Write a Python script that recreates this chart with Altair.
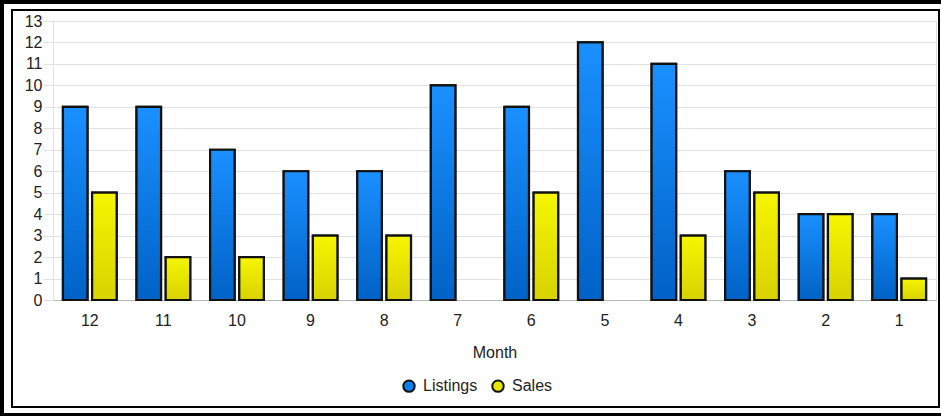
import altair as alt
import pandas as pd

months = [12, 11, 10, 9, 8, 7, 6, 5, 4, 3, 2, 1]
listings = [9, 9, 7, 6, 6, 10, 9, 12, 11, 6, 4, 4]
sales = [5, 2, 2, 3, 3, 0, 5, 0, 3, 5, 4, 1]
series = ["Listings", "Sales"]
flat_colors = ["#0a80ee", "#e6e600"]
y_ticks = list(range(0, 14))

rows = []
for m, l, s in zip(months, listings, sales):
    rows.append({"Month": str(m), "Series": "Listings", "Value": l})
    rows.append({"Month": str(m), "Series": "Sales", "Value": s})
df = pd.DataFrame(rows)

FONT = "Liberation Sans"
FS = 16
month_order = [str(m) for m in months]

x_enc = alt.X("Month:N", sort=month_order, title="Month",
              scale=alt.Scale(paddingInner=0.27, paddingOuter=0.135),
              axis=alt.Axis(labelAngle=0, labelFontSize=FS, labelColor="#222222",
                            labelFont=FONT, titleFont=FONT, titleFontSize=FS,
                            titleFontWeight="normal", titleColor="#222222",
                            ticks=False, domainColor="#b8b8b8", labelPadding=12,
                            titlePadding=16))
xoff_enc = alt.XOffset("Series:N", scale=alt.Scale(domain=series, paddingInner=0.16, paddingOuter=0))
y_enc = alt.Y("Value:Q", title=None,
              scale=alt.Scale(domain=[0, 13], nice=False),
              axis=alt.Axis(values=y_ticks, labelFontSize=FS, labelColor="#222222",
                            labelFont=FONT, tickSize=10, tickColor="#e2e2e2",
                            gridColor="#e2e2e2", domainColor="#e2e2e2",
                            labelPadding=1))

base = alt.Chart(df).transform_filter("datum.Value > 0")

legend_layer = base.mark_bar(stroke="#111111", strokeWidth=2.2).encode(
    x=x_enc, xOffset=xoff_enc, y=y_enc,
    color=alt.Color("Series:N", scale=alt.Scale(domain=series, range=flat_colors),
                    legend=alt.Legend(title=None, orient="none", direction="horizontal",
                                      legendX=348, legendY=357, symbolType="circle",
                                      symbolSize=130, symbolStrokeColor="#111111",
                                      symbolStrokeWidth=2, labelFont=FONT,
                                      labelFontSize=FS, labelColor="#222222",
                                      columnPadding=10, labelOffset=6)),
)

def grad(top, bottom):
    return alt.Gradient(gradient="linear",
                        stops=[alt.GradientStop(color=top, offset=0),
                               alt.GradientStop(color=bottom, offset=1)],
                        x1=0, x2=0, y1=0, y2=1)

blue_layer = base.transform_filter("datum.Series == 'Listings'").mark_bar(
    fill=grad("#1a90ff", "#0062c6"), stroke="#111111", strokeWidth=2.2
).encode(x=x_enc, xOffset=xoff_enc, y=y_enc)

yellow_layer = base.transform_filter("datum.Series == 'Sales'").mark_bar(
    fill=grad("#f6f600", "#d8d200"), stroke="#111111", strokeWidth=2.2
).encode(x=x_enc, xOffset=xoff_enc, y=y_enc)

frame_data = alt.Data(values=[{"k": 1}])
inner_frame = alt.Chart(frame_data).mark_rect(fill=None, stroke="#000000", strokeWidth=2).encode(
    x=alt.value(12 - 53), x2=alt.value(939 - 53), y=alt.value(10 - 21), y2=alt.value(407 - 21)
)
outer_frame = alt.Chart(frame_data).mark_rect(fill=None, stroke="#000000", strokeWidth=4).encode(
    x=alt.value(2 - 53), x2=alt.value(960 - 53), y=alt.value(2 - 21), y2=alt.value(415 - 21)
)

chart = alt.layer(legend_layer, blue_layer, yellow_layer, inner_frame, outer_frame).properties(
    width=883, height=279,
    autosize=alt.AutoSizeParams(type="none"),
    padding={"left": 53, "right": 5, "top": 21, "bottom": 116},
).configure_view(stroke=None).configure(background="white")

chart.save("out.html", embed_options={"renderer": "svg", "actions": False})
